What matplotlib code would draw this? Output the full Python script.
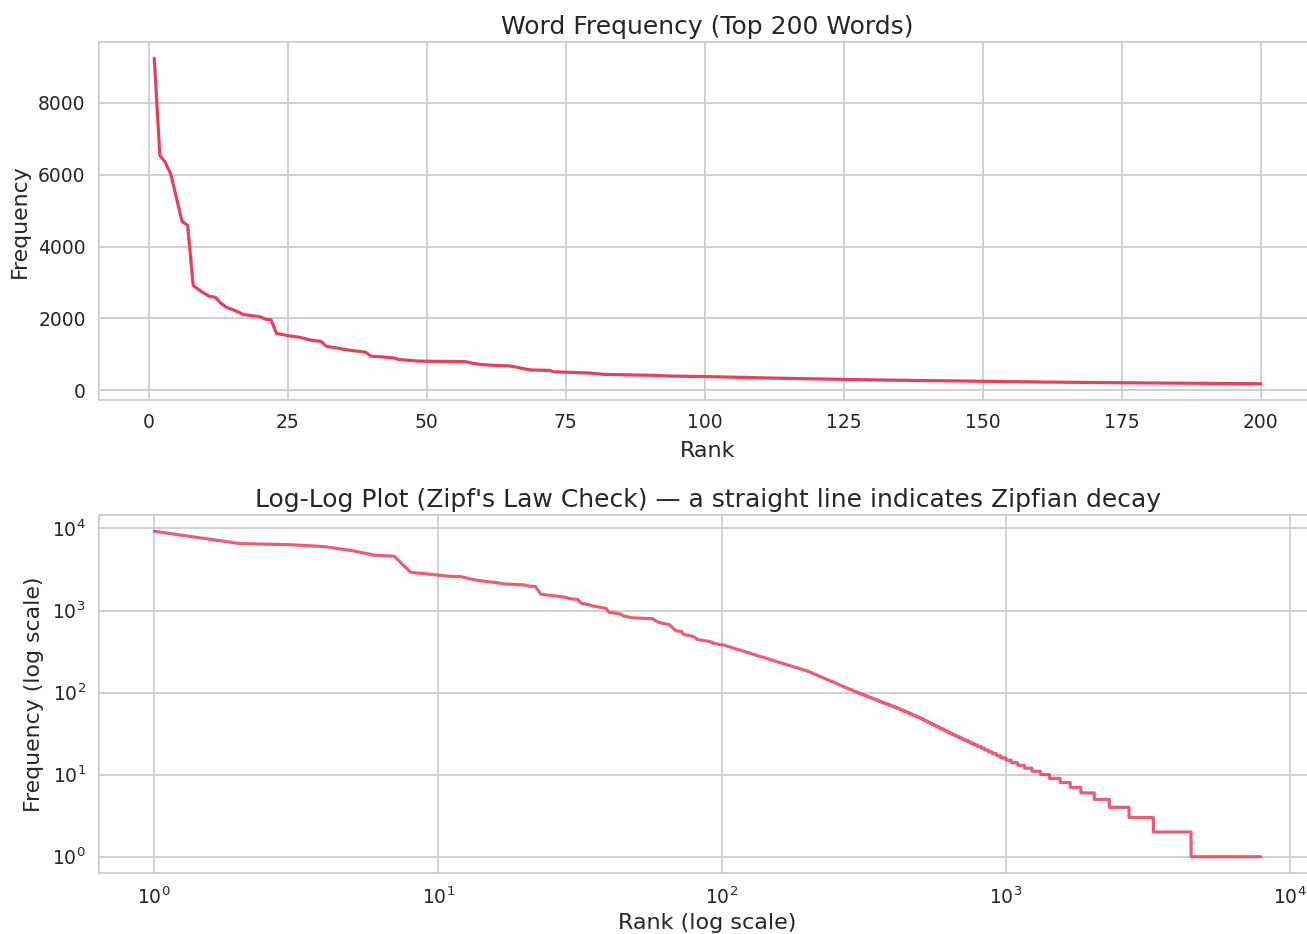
import numpy as np
import matplotlib
matplotlib.use('Agg')
import matplotlib.pyplot as plt
import seaborn as sns

# Frequencies of the 200 most common words, in rank order.
top200 = [
    9240, 6540, 6340, 6000, 5350, 4700, 4590, 2920, 2800, 2700,
    2610, 2590, 2420, 2310, 2250, 2190, 2110, 2090, 2070, 2050,
    1980, 1960, 1580, 1555, 1520, 1500, 1480, 1445, 1400, 1380,
    1360, 1220, 1200, 1175, 1140, 1120, 1100, 1080, 1060, 950,
    940, 930, 915, 905, 855, 845, 830, 818, 812, 810,
    808, 806, 804, 802, 800, 798, 796, 760, 735, 715,
    704, 695, 688, 682, 676, 650, 615, 585, 565, 562,
    558, 555, 515, 508, 503, 498, 494, 490, 484, 470,
    455, 444, 440, 437, 434, 431, 428, 425, 422, 419,
    417, 408, 400, 397, 394, 391, 388, 386, 384, 382,
    381, 377, 373, 369, 366, 362, 358, 354, 351, 347,
    344, 341, 337, 334, 331, 328, 325, 322, 319, 317,
    314, 311, 309, 306, 303, 300, 298, 295, 293, 290,
    288, 285, 283, 281, 278, 276, 274, 272, 270, 268,
    266, 264, 262, 260, 258, 256, 254, 252, 250, 249,
    247, 245, 244, 242, 240, 238, 237, 235, 234, 232,
    231, 229, 228, 226, 225, 223, 222, 220, 219, 217,
    216, 215, 213, 212, 211, 209, 208, 207, 206, 204,
    203, 202, 201, 200, 198, 197, 196, 195, 194, 193,
    192, 191, 190, 189, 188, 187, 186, 185, 184, 182,
]

# Remaining vocabulary as a frequency spectrum: how many words occur
# exactly f times, for f = 181 down to 1.
tail_freq = list(range(181, 0, -1))
tail_counts = [
    1, 1, 1, 1, 1, 0, 1, 1, 1, 0, 1,          # 181-171
    1, 1, 1, 1, 1, 1, 1, 0, 1, 1,             # 170-161
    1, 1, 1, 1, 1, 1, 1, 1, 1, 1,             # 160-151
    1, 1, 1, 1, 1, 1, 1, 1, 1, 1,             # 150-141
    1, 2, 1, 1, 2, 1, 1, 2, 1, 1,             # 140-131
    1, 1, 2, 1, 1, 2, 1, 1, 2, 1,             # 130-121
    1, 2, 2, 1, 2, 1, 2, 2, 1, 2,             # 120-111
    2, 2, 2, 2, 2, 1, 2, 2, 2, 2,             # 110-101
    2, 2, 3, 2, 2, 3, 2, 3, 2, 3,             # 100-91
    3, 2, 3, 3, 3, 3, 3, 3, 3, 3,             # 90-81
    3, 4, 3, 3, 4, 4, 4, 4, 4, 4,             # 80-71
    4, 4, 4, 5, 5, 4, 5, 5, 4, 5,             # 70-61
    5, 5, 5, 5, 5, 6, 6, 5, 7, 6,             # 60-51
    6, 7, 6, 6, 7, 7, 6, 8, 7, 8,             # 50-41
    8, 8, 9, 9, 10, 10, 10, 11, 12, 13,       # 40-31
    14, 14, 16, 16, 18, 18, 20, 21, 23, 24,   # 30-21
    26, 28, 31, 33, 40, 45, 56, 62, 72, 90,   # 20-11
    99, 129, 132, 152, 210, 268, 400, 591, 1182, 3420,  # 10-1
]

LINE = '#E8405A'

sns.set_theme(style='whitegrid')
plt.rcParams['font.family'] = ['DejaVu Sans']
plt.rcParams['grid.linewidth'] = 1.3
plt.rcParams['axes.linewidth'] = 1.3


def main():
    freqs = np.concatenate([np.array(top200),
                            np.repeat(tail_freq, tail_counts)])
    ranks = np.arange(1, len(freqs) + 1)

    fig, (ax1, ax2) = plt.subplots(2, 1, figsize=(13.07, 9.34), dpi=100)
    # the right edge of both panels runs just past the canvas
    fig.subplots_adjust(left=0.0757, right=1.007, top=0.955, bottom=0.0653,
                        hspace=0.321)

    ax1.plot(ranks[:200], freqs[:200], color=LINE, lw=2.3)
    ax1.set_title('Word Frequency (Top 200 Words)', fontsize=18)
    ax1.set_xlabel('Rank', fontsize=16, labelpad=6.5)
    ax1.set_ylabel('Frequency', fontsize=15.8, labelpad=6)

    ax2.loglog(ranks, freqs, color=LINE, lw=2.3, alpha=0.85)
    ax2.set_title("Log-Log Plot (Zipf's Law Check) \u2014 a straight line "
                  "indicates Zipfian decay", fontsize=18)
    ax2.set_xlabel('Rank (log scale)', fontsize=16, labelpad=3.5)
    ax2.set_ylabel('Frequency (log scale)', fontsize=15.8, labelpad=6)

    for ax in (ax1, ax2):
        ax.tick_params(labelsize=13.5)

    fig.savefig('out.png', dpi=100)


if __name__ == '__main__':
    main()
